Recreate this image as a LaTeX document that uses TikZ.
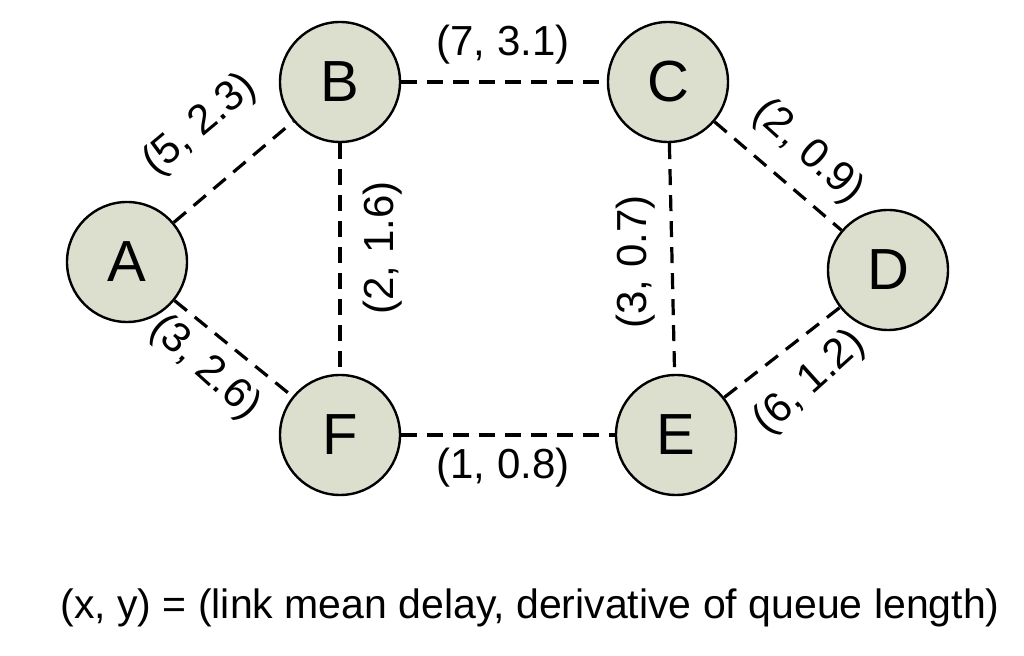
\documentclass[tikz,border=0pt]{standalone}
\usepackage{fontspec}
\setmainfont{Liberation Sans}
\begin{document}
\begin{tikzpicture}[x=0.5pt,y=-0.5pt,
 n/.style={circle,draw=black,line width=1.2pt,fill={rgb,255:red,221;green,223;blue,206},minimum size=60pt,inner sep=0pt,font=\fontsize{29}{32}\selectfont},
 e/.style={line width=1.6pt,dash pattern=on 8pt off 5pt},
 l/.style={font=\fontsize{21}{24}\selectfont}]
\useasboundingbox (0,0) rectangle (1024,656);
\node[n] (A) at (127,262) {A};
\node[n] (B) at (340,82) {B};
\node[n] (C) at (668,82) {C};
\node[n] (D) at (888,270) {D};
\node[n] (E) at (676,435) {E};
\node[n] (F) at (340,435) {F};
\draw[e] (A) -- (B); \draw[e] (B) -- (C); \draw[e] (C) -- (D);
\draw[e] (B) -- (F); \draw[e] (C) -- (E); \draw[e] (A) -- (F);
\draw[e] (F) -- (E); \draw[e] (E) -- (D);
\node[l,rotate=40] at (200,125) {(5, 2.3)};
\node[l] at (503,45) {(7, 3.1)};
\node[l,rotate=-42] at (808,152) {(2, 0.9)};
\node[l,rotate=90] at (383,248) {(2, 1.6)};
\node[l,rotate=90] at (636,262) {(3, 0.7)};
\node[l,rotate=-42] at (205,368) {(3, 2.6)};
\node[l,rotate=42] at (810,383) {(6, 1.2)};
\node[l] at (503,468) {(1, 0.8)};
\node[font=\fontsize{20.5}{23}\selectfont] at (530,608) {(x, y) = (link mean delay, derivative of queue length)};
\end{tikzpicture}
\end{document}
